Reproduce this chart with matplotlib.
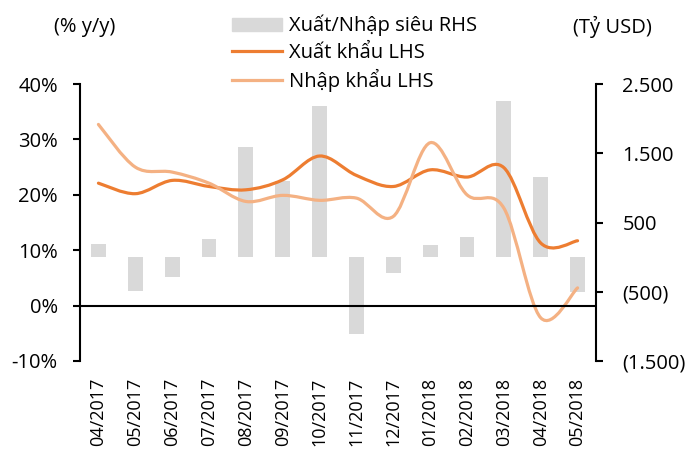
import numpy as np
import matplotlib
matplotlib.use('Agg')
import matplotlib.pyplot as plt
from matplotlib.path import Path
from matplotlib.patches import PathPatch, Patch
from matplotlib.lines import Line2D
from matplotlib.ticker import FuncFormatter

plt.rcParams['font.family'] = ['Open Sans', 'DejaVu Sans']
plt.rcParams['font.size'] = 14.5

months = ['04/2017', '05/2017', '06/2017', '07/2017', '08/2017', '09/2017', '10/2017',
          '11/2017', '12/2017', '01/2018', '02/2018', '03/2018', '04/2018', '05/2018']
# trade balance, right axis
balance = [188, -487, -294, 264, 1588, 1106, 2185, -1112, -231, 178, 293, 2257, 1160, -497]
# growth % y/y, left axis
exports = [22.1, 20.2, 22.6, 21.5, 20.9, 22.7, 27.0, 23.5, 21.5, 24.5, 23.2, 24.9, 11.3, 11.7]
imports = [32.7, 25.0, 24.1, 22.1, 18.8, 19.9, 19.0, 19.4, 16.1, 29.4, 20.0, 17.6, -2.2, 3.2]

c_exp = '#ED7D31'
c_imp = '#F4B183'
c_bar = '#D9D9D9'


def smooth_path(xs, ys):
    # cubic bezier through the points (catmull-rom style, like excel smoothed lines)
    pts = np.column_stack([xs, ys]).astype(float)
    n = len(pts)
    verts = [pts[0]]
    codes = [Path.MOVETO]
    for i in range(n - 1):
        p0 = pts[max(i - 1, 0)]
        p1 = pts[i]
        p2 = pts[i + 1]
        p3 = pts[min(i + 2, n - 1)]
        verts += [p1 + (p2 - p0) / 6, p2 - (p3 - p1) / 6, p2]
        codes += [Path.CURVE4] * 3
    return Path(verts, codes)


fig = plt.figure(figsize=(6.85, 4.53), dpi=100)
ax = fig.add_axes([80 / 685, 1 - 361 / 453, 516 / 685, 277 / 453])
ax2 = ax.twinx()
ax.set_zorder(ax2.get_zorder() + 1)
ax.patch.set_visible(False)

x = np.arange(len(months))
ax2.bar(x, balance, width=0.4, color=c_bar)
ax2.set_ylim(-1500, 2500)
ax2.set_yticks([-1500, -500, 500, 1500, 2500])


def rhs_fmt(v, pos):
    s = f'{abs(v):,.0f}'.replace(',', '.')
    return f'({s})' if v < 0 else s


ax2.yaxis.set_major_formatter(FuncFormatter(rhs_fmt))

ax.add_patch(PathPatch(smooth_path(x, exports), fill=False, edgecolor=c_exp, lw=2.3, capstyle='round'))
ax.add_patch(PathPatch(smooth_path(x, imports), fill=False, edgecolor=c_imp, lw=2.3, capstyle='round'))
ax.axhline(0, color='black', lw=1.5, zorder=1)

ax.set_ylim(-10, 40)
ax.set_yticks(range(-10, 41, 10))
ax.yaxis.set_major_formatter(FuncFormatter(lambda v, p: f'{v:.0f}%'))
ax.set_xlim(-0.5, len(months) - 0.5)
ax.set_xticks(x)
ax.set_xticklabels(months, rotation=90, fontsize=13)
ax.tick_params(axis='x', length=0, pad=12)
ax.tick_params(axis='y', direction='out', length=5, width=1.5, pad=11)
ax2.tick_params(axis='y', direction='out', length=5, width=1.5, pad=14)

for a in (ax, ax2):
    a.spines['top'].set_visible(False)
    a.spines['bottom'].set_visible(False)
ax.spines['right'].set_visible(False)
ax2.spines['left'].set_visible(False)
ax.spines['left'].set_linewidth(1.5)
ax2.spines['right'].set_linewidth(1.5)

fig.text(85 / 685, 1 - 27 / 453, '(% y/y)', ha='center', va='center')
fig.text(612 / 685, 1 - 27 / 453, '(Tỷ USD)', ha='center', va='center')

handles = [Patch(color=c_bar), Line2D([], [], color=c_exp, lw=2.3), Line2D([], [], color=c_imp, lw=2.3)]
labels = ['Xuất/Nhập siêu RHS', 'Xuất khẩu LHS', 'Nhập khẩu LHS']
fig.legend(handles, labels, loc='upper left', bbox_to_anchor=(232 / 685, 1 - 15 / 453),
           frameon=False, handlelength=2.5, handleheight=0.65, handletextpad=0.35,
           labelspacing=0.3, borderpad=0, borderaxespad=0)

plt.savefig('out.png', dpi=100)
